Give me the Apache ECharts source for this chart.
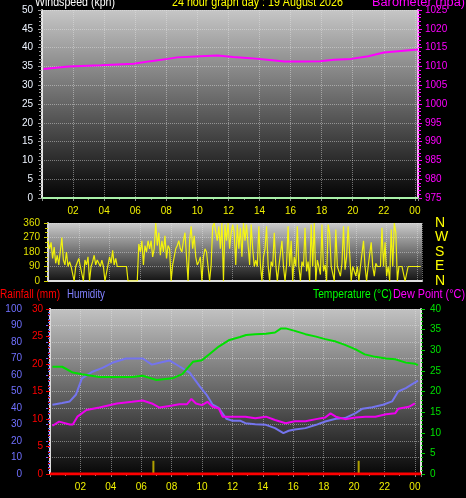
<!DOCTYPE html>
<html><head><meta charset="utf-8">
<style>html,body{margin:0;padding:0;background:#000;}#c{width:466px;height:498px;}</style>
<script src="https://cdn.jsdelivr.net/npm/echarts@6.0.0/dist/echarts.min.js"></script>
</head><body><div id="c"></div>
<script>
// ---- data ----
const hourTickLabels = ['02','04','06','08','10','12','14','16','18','20','22','00'];
const compassLabels = ['N','E','S','W','N']; // 0,90,180,270,360

const baroHours  = [0.1,1.7,3.8,5.9,7.0,8.1,8.7,10.2,11.3,12.3,13.4,14.5,15.6,16.7,17.9,18.8,19.9,21.0,22.0,23.1,24.2];
const baroValues = [1009.3,1010.0,1010.3,1010.7,1011.4,1012.0,1012.4,1012.7,1012.9,1012.5,1012.2,1011.8,1011.3,1011.3,1011.4,1011.8,1012.0,1012.7,1013.7,1014.1,1014.5];

const windSpeedHours = [0, 24.2];
const windSpeedValues = [0, 0];

const windDirStepHours = 0.1;
const windDir = [
 250,200,240,140,210,110,160,100,90,270,
 130,100,180,90,120,90,95,0,90,100,
 140,90,100,0,130,100,150,0,90,120,
 160,100,130,110,90,130,90,0,0,100,
 150,110,190,100,140,90,90,90,90,90,
 90,90,0,0,0,0,0,0,0,230,
 180,250,100,220,180,250,200,250,150,200,
 360,220,300,160,250,180,280,140,220,200,
 0,100,150,200,220,250,200,180,250,300,
 300,0,250,340,200,280,150,100,120,150,
 0,150,200,180,170,0,100,340,360,350,
 250,340,200,360,0,350,250,360,200,300,
 350,300,100,350,200,330,150,360,250,350,
 350,100,350,200,90,130,90,340,100,0,
 150,200,340,100,0,120,90,300,100,0,
 90,100,250,90,0,100,340,90,250,0,
 150,90,340,90,0,120,90,330,60,120,
 0,350,90,360,0,130,90,40,350,60,
 100,0,350,300,90,100,0,320,90,100,
 30,110,340,70,150,340,350,0,90,100,
 30,90,0,90,90,250,90,0,90,90,
 240,90,30,110,90,100,90,330,90,240,
 30,90,0,320,90,360,300,0,90,90,
 90,90,0,0,90,90,90,90,90,90,
 90,90,90
];

const tempHours  = [0.16,0.8,1.5,2.1,3.25,5.4,6.1,7.0,8.05,8.7,9.4,10.0,10.5,11.1,11.8,12.5,12.9,13.5,14.2,14.8,15.2,15.5,16.1,16.8,17.5,18.1,18.8,19.4,20.1,20.7,21.4,22.1,22.7,23.4,24.0,24.2];
const tempValues = [26.0,26.0,24.6,24.2,23.5,23.5,23.8,22.8,23.2,24.2,27.2,27.6,29.1,30.9,32.5,33.2,33.7,33.9,34.0,34.3,35.3,35.3,34.7,33.9,33.3,32.7,32.1,31.3,30.2,29.0,28.4,28.0,27.8,27.0,26.7,26.4];

const humHours  = [0.16,0.8,1.3,1.7,2.1,2.8,3.45,4.1,5.0,6.1,6.7,7.2,7.85,8.5,9.2,9.85,10.3,10.7,11.1,11.6,12.0,12.5,12.85,13.5,14.2,14.8,15.35,15.7,16.1,16.8,17.5,18.1,18.8,19.4,20.1,20.55,21.2,21.9,22.5,22.9,23.4,24.2];
const humValues = [42,43,44,48,58,62,64.3,67.4,70,70,66.3,67.4,68.8,65.3,61.3,53.1,48,42,40,33.5,32.3,32.3,30.8,30.2,29.8,27.8,24.8,26.2,27.0,27.8,29.8,31.8,33.5,33.9,36.9,39.6,40.4,42,44,50,52.1,56.6];

const dewHours  = [0.16,0.6,1.3,1.5,1.8,2.4,3.25,4.4,5.4,6.1,6.7,7.2,7.85,8.5,9.0,9.3,9.6,10.0,10.35,10.7,11.1,11.35,11.8,12.5,12.85,13.5,14.2,14.8,15.5,16.1,16.8,17.5,18.1,18.45,18.8,19.4,20.1,20.75,21.4,22.1,22.7,22.9,23.6,24.0];
const dewValues = [11.7,12.7,12.0,12.0,13.9,15.5,16.1,17.1,17.5,17.8,17.1,16.1,16.5,16.9,16.9,18.2,17.1,16.7,17.5,16.3,15.9,13.9,13.9,13.9,13.9,13.5,13.9,13.1,12.3,12.8,12.8,13.3,13.7,14.7,13.9,13.3,13.7,13.9,13.9,14.5,14.7,15.8,16.3,17.1];

const rainHours  = [0, 24.4];
const rainValues = [0, 0];
const rainMarkHours  = [6.8, 20.3];
const rainMarkValues = [2.4, 2.4];

// ---- helpers ----
const pairs = (xs, ys) => xs.map((x, i) => [x, ys[i]]);
const grad = (a, b) => ({type:'linear', x:0, y:0, x2:0, y2:1, colorStops:[{offset:0,color:a},{offset:1,color:b}]});
const dotted = {show:true, lineStyle:{color:'rgba(230,230,230,0.45)', type:'dotted', width:1}};
const FONT = 'Liberation Sans';
const fmtHour = v => {
  const r = Math.round(v);
  if (Math.abs(v - r) > 1e-6 || r <= 0 || r % 2) return '';
  return hourTickLabels[r / 2 - 1];
};
const xBase = (grid, max, labels) => ({
  type:'value', gridIndex:grid, min:0, max:max, interval:2,
  axisLine:{show:true, onZero:false, lineStyle:{color:'#e0e0e0', width:2}},
  axisTick:{show:labels, length:3, lineStyle:{color:'#8a8a8a'}},
  minorTick:{show:labels, splitNumber:2, length:2, lineStyle:{color:'#8a8a8a'}},
  axisLabel:{show:labels, color:'#f0f000', fontSize:10, fontFamily:FONT, margin:8, formatter:fmtHour},
  splitLine:dotted
});
// header texts squeezed horizontally to the reference widths
const measureCtx = document.createElement('canvas').getContext('2d');
const TITLE_FONT = '13px ' + FONT;
measureCtx.font = TITLE_FONT;
const label = (text, left, top, width, fill) => {
  const w = measureCtx.measureText(text).width;
  return {type:'text', x:left, y:top, scaleX: width / w, style:{text, fill, font:TITLE_FONT}};
};

const chart = echarts.init(document.getElementById('c'));
chart.setOption({
  animation:false,
  backgroundColor:'#000',
  grid:[
    {left:42, top:10, width:376, height:188, show:true, borderWidth:0, backgroundColor:grad('#c6c6c6','#040404')},
    {left:48, top:223, width:374, height:58, show:true, borderWidth:0, backgroundColor:grad('#cccccc','#141414')},
    {left:50, top:309, width:371, height:165, show:true, borderWidth:0, backgroundColor:grad('#c2c2c2','#080808')}
  ],
  xAxis:[ xBase(0, 24.2, true), xBase(1, 24.3, false), xBase(2, 24.4, true) ],
  yAxis:[
    {type:'value', gridIndex:0, position:'left', min:0, max:50, interval:5,
     axisLine:{show:true, lineStyle:{color:'#e6e6e6', width:2}},
     axisTick:{show:true, length:4, lineStyle:{color:'#9a9a9a'}},
     minorTick:{show:true, splitNumber:5, length:3, lineStyle:{color:'#9a9a9a'}},
     axisLabel:{color:'#eef4ff', fontSize:10, fontFamily:FONT, margin:9},
     splitLine:dotted},
    {type:'value', gridIndex:0, position:'right', min:975, max:1025, interval:5,
     axisLine:{show:true, lineStyle:{color:'#ffa0ff', width:2}},
     axisTick:{show:true, length:4, lineStyle:{color:'#ff00ff'}},
     minorTick:{show:true, splitNumber:5, length:3, lineStyle:{color:'#ff00ff'}},
     axisLabel:{color:'#ff00ff', fontSize:10, fontFamily:FONT, margin:7, formatter:v => String(v)},
     splitLine:{show:false}},
    {type:'value', gridIndex:1, position:'left', min:0, max:360, interval:90,
     axisLine:{show:true, lineStyle:{color:'#d8d8d8', width:2}},
     axisTick:{show:true, length:4, lineStyle:{color:'#d0d000'}},
     minorTick:{show:true, splitNumber:3, length:3, lineStyle:{color:'#d0d000'}},
     axisLabel:{color:'#e0e000', fontSize:10, fontFamily:FONT, margin:8},
     splitLine:dotted},
    {type:'value', gridIndex:1, position:'right', min:0, max:360, interval:90,
     axisLine:{show:false}, axisTick:{show:false}, splitLine:{show:false},
     axisLabel:{color:'#ffff00', fontSize:14, fontFamily:FONT, margin:13,
       formatter:v => compassLabels[Math.round(v / 90)]}},
    {type:'value', gridIndex:2, position:'left', offset:20, min:0, max:100, interval:10,
     axisLine:{show:true, lineStyle:{color:'#6b6bff', width:2}},
     axisTick:{show:true, length:4, lineStyle:{color:'#6b6bff'}},
     minorTick:{show:true, splitNumber:5, length:2, lineStyle:{color:'#6b6bff'}},
     axisLabel:{color:'#7070ff', fontSize:10, fontFamily:FONT, margin:8},
     splitLine:dotted},
    {type:'value', gridIndex:2, position:'left', offset:0, min:0, max:30, interval:5,
     axisLine:{show:true, lineStyle:{color:'#dcdcdc', width:2}},
     axisTick:{show:true, length:4, lineStyle:{color:'#ff0000'}},
     minorTick:{show:true, splitNumber:5, length:2, lineStyle:{color:'#cc0000'}},
     axisLabel:{color:'#ff0000', fontSize:10, fontFamily:FONT, margin:7},
     splitLine:{show:false}},
    {type:'value', gridIndex:2, position:'right', min:0, max:40, interval:5,
     axisLine:{show:true, lineStyle:{color:'#e0e0e0', width:2}},
     axisTick:{show:true, length:4, lineStyle:{color:'#00d000'}},
     minorTick:{show:true, splitNumber:5, length:2, lineStyle:{color:'#00d000'}},
     axisLabel:{color:'#00e000', fontSize:10, fontFamily:FONT, margin:9},
     splitLine:{show:false}}
  ],
  series:[
    {type:'line', xAxisIndex:0, yAxisIndex:0, data:pairs(windSpeedHours, windSpeedValues),
     showSymbol:false, lineStyle:{color:'#a8f0a8', width:2}, z:3},
    {type:'line', xAxisIndex:0, yAxisIndex:1, data:pairs(baroHours, baroValues),
     showSymbol:false, lineStyle:{color:'#ff00ff', width:2}, z:3},
    {type:'line', xAxisIndex:1, yAxisIndex:2,
     data:windDir.map((v, i) => [i * windDirStepHours, v]),
     showSymbol:false, lineStyle:{color:'#ffff00', width:1.2, opacity:0.9}, z:3},
    {type:'line', xAxisIndex:2, yAxisIndex:4, data:pairs(humHours, humValues),
     showSymbol:false, lineStyle:{color:'#7474ee', width:2}, z:3},
    {type:'line', xAxisIndex:2, yAxisIndex:6, data:pairs(dewHours, dewValues),
     showSymbol:false, lineStyle:{color:'#ee00ee', width:2}, z:4},
    {type:'line', xAxisIndex:2, yAxisIndex:6, data:pairs(tempHours, tempValues),
     showSymbol:false, lineStyle:{color:'#00e000', width:2}, z:4},
    {type:'bar', xAxisIndex:2, yAxisIndex:5, data:pairs(rainMarkHours, rainMarkValues),
     barWidth:2, itemStyle:{color:'#b0a000'}, z:4},
    {type:'line', xAxisIndex:2, yAxisIndex:5, data:pairs(rainHours, rainValues),
     showSymbol:false, lineStyle:{color:'#ff0000', width:3}, z:5}
  ],
  graphic:[
    label('Windspeed (kph)', 35, -4, 80, '#ffffff'),
    label('24 hour graph day : 19 August 2026', 172, -4, 171, '#ffff00'),
    label('Barometer (hpa)', 372, -4, 93, '#ff00ff'),
    label('Rainfall (mm)', 0, 288, 60, '#ff0000'),
    label('Humidity', 67, 288, 38, '#8080ff'),
    label('Temperature (°C)', 313, 288, 79, '#00ff00'),
    label('Dew Point (°C)', 393, 288, 72, '#ff00ff')
  ]
});
</script>
</body></html>
